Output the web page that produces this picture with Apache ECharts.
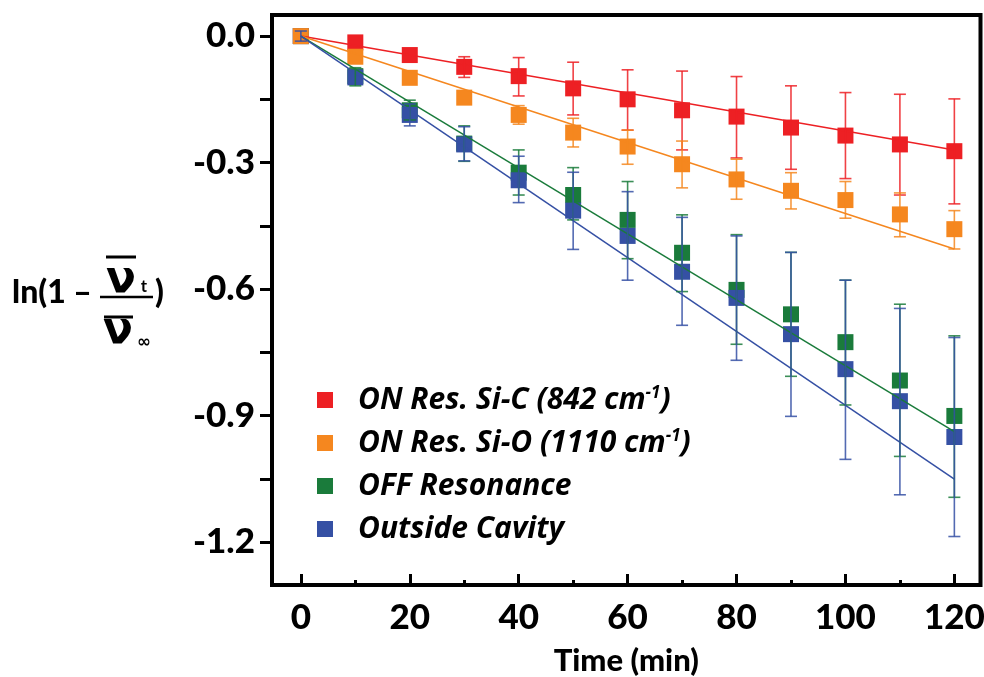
<!DOCTYPE html>
<html><head><meta charset="utf-8">
<script src="https://cdn.jsdelivr.net/npm/echarts@6/dist/echarts.min.js"></script>
<style>html,body{margin:0;padding:0;background:#fff}#c{width:984px;height:677px}</style>
</head><body><div id="c"></div>
<script>
// ---- data ----
const times = [0, 10, 20, 30, 40, 50, 60, 70, 80, 90, 100, 110, 120];
const names = ['ON Res. Si-C (842 cm-1)', 'ON Res. Si-O (1110 cm-1)', 'OFF Resonance', 'Outside Cavity'];

const redY  = [0, -0.015, -0.045, -0.073, -0.095, -0.124, -0.150, -0.176, -0.191, -0.217, -0.236, -0.257, -0.273];
const redHi = [null, null, null, -0.049, -0.051, -0.062, -0.080, -0.083, -0.096, -0.118, -0.134, -0.138, -0.149];
const redLo = [null, null, null, -0.098, -0.142, -0.187, -0.223, -0.270, -0.289, -0.316, -0.338, -0.377, -0.398];

const orangeY  = [0, -0.049, -0.099, -0.146, -0.187, -0.229, -0.262, -0.304, -0.340, -0.367, -0.389, -0.423, -0.458];
const orangeHi = [null, null, null, null, -0.165, -0.195, -0.223, -0.249, -0.292, -0.324, -0.345, -0.372, -0.414];
const orangeLo = [null, null, null, null, -0.209, -0.263, -0.304, -0.360, -0.387, -0.410, -0.432, -0.476, -0.505];

const greenY  = [0, -0.095, -0.176, -0.255, -0.324, -0.377, -0.436, -0.514, -0.602, -0.660, -0.726, -0.817, -0.901];
const greenHi = [null, -0.075, -0.152, -0.213, -0.270, -0.312, -0.345, -0.424, -0.471, -0.513, -0.579, -0.636, -0.711];
const greenLo = [null, -0.118, -0.199, -0.297, -0.377, -0.436, -0.528, -0.606, -0.731, -0.807, -0.875, -0.997, -1.094];

const blueY  = [0, -0.098, -0.187, -0.257, -0.342, -0.414, -0.474, -0.559, -0.621, -0.707, -0.790, -0.866, -0.951];
const blueHi = [0.012, null, -0.161, -0.215, -0.285, -0.323, -0.369, -0.430, -0.474, -0.513, -0.579, -0.646, -0.715];
const blueLo = [-0.012, null, -0.213, -0.296, -0.395, -0.506, -0.579, -0.686, -0.769, -0.902, -1.004, -1.088, -1.187];

// linear fits through origin: value at t = 120
const fitEndTime = 120;
const fitEnd = { red: -0.270, orange: -0.505, green: -0.938, blue: -1.051 };

const xMajorTicks = [0, 20, 40, 60, 80, 100, 120];
const xMinorTicks = [10, 30, 50, 70, 90, 110];
const yLabelTicks = [0, -0.3, -0.6, -0.9, -1.2];
const yAllTicks = [0, -0.15, -0.3, -0.45, -0.6, -0.75, -0.9, -1.05, -1.2];

// ---- styling ----
const C = { red: '#ED2024', orange: '#F5871F', green: '#1A7B3B', blue: '#3550A4' };
const FONT = 'Lato';
const W = 900;

function pts(ys) { return times.map((t, i) => [t, ys[i]]); }
function errs(hi, lo) {
  const out = [];
  times.forEach((t, i) => { if (hi[i] !== null && lo[i] !== null) out.push([t, lo[i], hi[i]]); });
  return out;
}
function errSeries(hi, lo, color, z) {
  return {
    type: 'custom', xAxisIndex: 0, yAxisIndex: 0, z: z, silent: true,
    data: errs(hi, lo), encode: { x: 0, y: [1, 2] },
    renderItem: function (params, api) {
      const x = api.value(0);
      const pLo = api.coord([x, api.value(1)]);
      const pHi = api.coord([x, api.value(2)]);
      const w = 6;
      const st = { stroke: color, lineWidth: 1.6, opacity: 0.85 };
      return { type: 'group', children: [
        { type: 'line', shape: { x1: pHi[0], y1: pHi[1], x2: pLo[0], y2: pLo[1] }, style: st },
        { type: 'line', shape: { x1: pHi[0] - w, y1: pHi[1], x2: pHi[0] + w, y2: pHi[1] }, style: st },
        { type: 'line', shape: { x1: pLo[0] - w, y1: pLo[1], x2: pLo[0] + w, y2: pLo[1] }, style: st }
      ]};
    }
  };
}
function scatter(name, ys, color, z) {
  return { name: name, type: 'scatter', symbol: 'rect', symbolSize: 16, z: z,
    itemStyle: { color: color, opacity: 1 }, data: pts(ys) };
}
function fit(end, color) {
  return { type: 'line', symbol: 'none', z: 6, silent: true,
    lineStyle: { color: color, width: 1.5 }, data: [[0, 0], [fitEndTime, end]] };
}

const chart = echarts.init(document.getElementById('c'), null, { renderer: 'canvas' });
const option = {
  animation: false,
  backgroundColor: '#fff',
  grid: { left: 272, right: 3.5, top: 15, bottom: 92, containLabel: false, outerBoundsMode: 'none',
    show: true, borderColor: '#000', borderWidth: 4 },
  xAxis: [{
    type: 'value', min: -5.3, max: 124.8,
    axisLine: { show: false, onZero: false },
    axisTick: { show: true, inside: true, length: 11, lineStyle: { color: '#000', width: 3 }, customValues: xMajorTicks },
    axisLabel: { customValues: xMajorTicks, margin: 15, color: '#000', fontFamily: FONT, fontWeight: W, fontSize: 35 },
    splitLine: { show: false },
    name: 'Time (min)', nameLocation: 'middle', nameGap: 60,
    nameTextStyle: { color: '#000', fontFamily: FONT, fontWeight: W, fontSize: 31 }
  }, {
    type: 'value', min: -5.3, max: 124.8, position: 'bottom',
    axisLine: { show: false, onZero: false },
    axisTick: { show: true, inside: true, length: 5, lineStyle: { color: '#000', width: 3 }, customValues: xMinorTicks },
    axisLabel: { show: false }, splitLine: { show: false }
  }],
  yAxis: [{
    type: 'value', min: -1.302, max: 0.05, position: 'left',
    axisLine: { show: false, onZero: false },
    axisTick: { show: true, inside: false, length: 12, lineStyle: { color: '#000', width: 3 }, customValues: yAllTicks },
    axisLabel: { customValues: yLabelTicks, margin: 17, padding: [12, 0, 0, 0], color: '#000', fontFamily: FONT, fontWeight: W, fontSize: 35,
      formatter: v => (Math.abs(v) < 1e-9 ? 0 : v).toFixed(1) },
    splitLine: { show: false }
  }],
  legend: {
    data: names, orient: 'vertical', left: 317, top: 383, itemGap: 9,
    icon: 'rect', itemWidth: 16, itemHeight: 16, selectedMode: false, padding: 0,
    formatter: n => n.replace('cm-1', 'cm{sup|-1}'),
    textStyle: { color: '#000', fontFamily: 'Open Sans', fontWeight: 'bold', fontStyle: 'italic', fontSize: 30, lineHeight: 34,
      padding: [0, 0, 0, 20],
      rich: { sup: { color: '#000', fontFamily: 'Open Sans', fontWeight: 'bold', fontStyle: 'italic', fontSize: 17, lineHeight: 34, verticalAlign: 'top', padding: [2, 0, 0, 0] } } }
  },
  graphic: [
    { type: 'text', left: 12, top: 277, style: { text: 'ln(1 –', fill: '#000', font: '900 32px Lato' } },
    { type: 'line', shape: { x1: 106, y1: 257, x2: 136, y2: 257 }, style: { stroke: '#000', lineWidth: 3 } },
    { type: 'text', x: 121, y: 281, style: { text: 'ν', fill: '#000', font: 'bold 44px "DejaVu Sans"', align: 'center', verticalAlign: 'middle' } },
    { type: 'text', x: 144, y: 287, style: { text: 't', fill: '#000', font: 'bold 17px Lato', align: 'center', verticalAlign: 'middle' } },
    { type: 'line', shape: { x1: 100, y1: 297, x2: 153, y2: 297 }, style: { stroke: '#000', lineWidth: 2.5 } },
    { type: 'line', shape: { x1: 104, y1: 317, x2: 133, y2: 317 }, style: { stroke: '#000', lineWidth: 3 } },
    { type: 'text', x: 118, y: 332, style: { text: 'ν', fill: '#000', font: 'bold 44px "DejaVu Sans"', align: 'center', verticalAlign: 'middle' } },
    { type: 'text', x: 144, y: 343, style: { text: '∞', fill: '#000', font: 'bold 17px "DejaVu Sans"', align: 'center', verticalAlign: 'middle' } },
    { type: 'text', left: 155, top: 277, style: { text: ')', fill: '#000', font: '900 32px Lato' } }
  ],
  series: [
    scatter(names[0], redY, C.red, 2),
    scatter(names[2], greenY, C.green, 3),
    scatter(names[3], blueY, C.blue, 4),
    scatter(names[1], orangeY, C.orange, 5),
    fit(fitEnd.red, C.red), fit(fitEnd.orange, C.orange), fit(fitEnd.green, C.green), fit(fitEnd.blue, C.blue),
    errSeries(redHi, redLo, C.red, 7),
    errSeries(orangeHi, orangeLo, C.orange, 7),
    errSeries(greenHi, greenLo, C.green, 7),
    errSeries(blueHi, blueLo, C.blue, 8)
  ]
};
chart.setOption(option);
</script></body></html>
